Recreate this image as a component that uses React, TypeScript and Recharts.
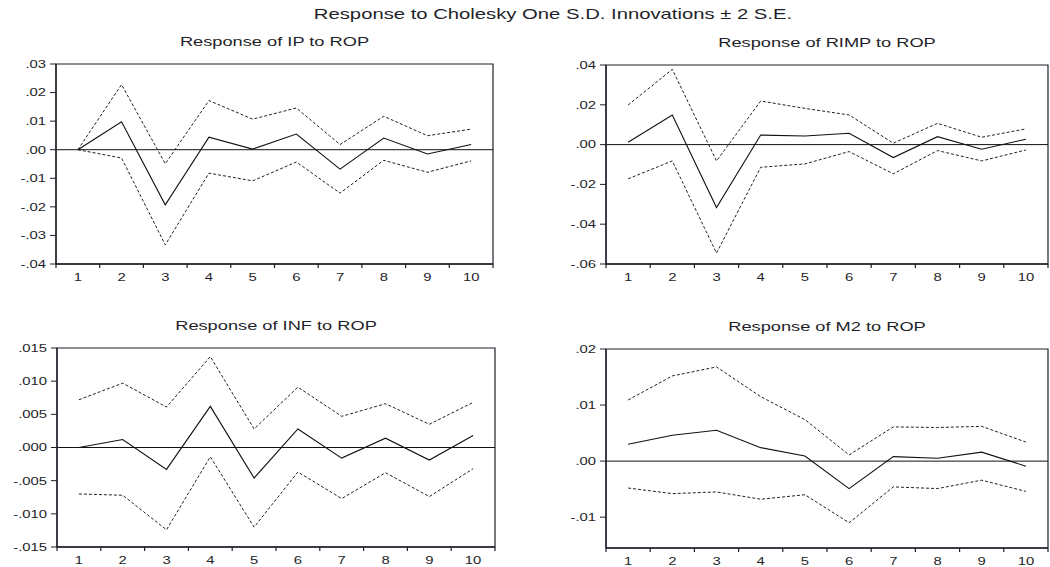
import React from 'react';
import { LineChart, Line, XAxis, YAxis, ReferenceLine, ReferenceArea } from 'recharts';

const periods = [1, 2, 3, 4, 5, 6, 7, 8, 9, 10];

// IP
const ipResp = [0.0, 0.0098, -0.0193, 0.0044, 0.0002, 0.0055, -0.0068, 0.0041, -0.0015, 0.0018];
const ipUpper = [0.0, 0.0228, -0.0049, 0.0172, 0.0107, 0.0146, 0.0018, 0.0117, 0.0049, 0.0072];
const ipLower = [0.0, -0.0029, -0.0333, -0.0082, -0.0109, -0.0043, -0.0152, -0.0037, -0.0079, -0.0039];
const ipTicks = [-0.04, -0.03, -0.02, -0.01, 0, 0.01, 0.02, 0.03];

// RIMP
const rimpResp = [0.0012, 0.0149, -0.0316, 0.0048, 0.0043, 0.0057, -0.0065, 0.004, -0.0023, 0.0027];
const rimpUpper = [0.0199, 0.0378, -0.0082, 0.0219, 0.0182, 0.0149, 0.0007, 0.0107, 0.0037, 0.0079];
const rimpLower = [-0.0172, -0.0082, -0.0545, -0.0114, -0.0097, -0.0035, -0.0147, -0.003, -0.0082, -0.0027];
const rimpTicks = [-0.06, -0.04, -0.02, 0, 0.02, 0.04];

// INF
const infResp = [0.0, 0.0012, -0.0033, 0.0062, -0.0046, 0.0028, -0.0016, 0.0014, -0.0019, 0.0018];
const infUpper = [0.0072, 0.0097, 0.0061, 0.0137, 0.0028, 0.0091, 0.0047, 0.0066, 0.0035, 0.0068];
const infLower = [-0.007, -0.0072, -0.0124, -0.0014, -0.012, -0.0037, -0.0077, -0.0038, -0.0074, -0.0032];
const infTicks = [-0.015, -0.01, -0.005, 0, 0.005, 0.01, 0.015];

// M2
const m2Resp = [0.003, 0.0046, 0.0055, 0.0024, 0.0009, -0.0049, 0.0008, 0.0005, 0.0016, -0.0009];
const m2Upper = [0.0109, 0.0152, 0.0168, 0.0115, 0.0074, 0.0011, 0.0061, 0.006, 0.0062, 0.0034];
const m2Lower = [-0.0048, -0.0058, -0.0055, -0.0068, -0.006, -0.011, -0.0046, -0.0049, -0.0034, -0.0054];
const m2Ticks = [-0.01, 0, 0.01, 0.02];

const FONT = '"Liberation Sans", Arial, sans-serif';
const INK = '#1f1f2a';
const STRETCH = 1.35;

// tick marks sit between periods, labels on the periods
const xTicks = [periods[0] - 0.5, ...periods.flatMap((p) => [p, p + 0.5])];
const xDomain = [periods[0] - 0.5, periods[periods.length - 1] + 0.5];

const fmt = (v: number, d: number) => v.toFixed(d).replace(/^(-?)0\./, '$1.');

const XTick = (props: any) => {
  const { x, y, payload } = props;
  const v = payload.value;
  if (!Number.isInteger(v)) {
    return <line x1={x} x2={x} y1={y} y2={y + 4} stroke={INK} strokeWidth={1.2} />;
  }
  return (
    <g transform={`translate(${x},${y + 17})`}>
      <text transform={`scale(${STRETCH},1)`} textAnchor="middle" fontSize={11} fill={INK} fontFamily={FONT}>
        {v}
      </text>
    </g>
  );
};

const makeYTick = (decimals: number) => (props: any) => {
  const { x, y, payload } = props;
  return (
    <g transform={`translate(${x},${y})`}>
      <text transform={`scale(${STRETCH},1)`} textAnchor="end" dy="0.35em" fontSize={11} fill={INK} fontFamily={FONT}>
        {fmt(payload.value, decimals)}
      </text>
    </g>
  );
};

type PanelProps = {
  title: string;
  resp: number[];
  upper: number[];
  lower: number[];
  yTicks: number[];
  yDomain: [number, number];
  decimals: number;
  left: number;
  top: number;
  w: number;
  h: number;
};

const IrfPanel = ({ title, resp, upper, lower, yTicks, yDomain, decimals, left, top, w, h }: PanelProps) => {
  const ML = 60, MT = 10, MR = 10, MB = 30;
  const data = periods.map((p, i) => ({ period: p, resp: resp[i], upper: upper[i], lower: lower[i] }));
  return (
    <>
      <div
        style={{
          position: 'absolute', left, top: top - 31, width: w, textAlign: 'center',
          fontFamily: FONT, fontSize: 13.5, lineHeight: '18px', color: INK,
          transform: `scaleX(${STRETCH})`, whiteSpace: 'nowrap',
        }}
      >
        {title}
      </div>
      <div style={{ position: 'absolute', left: left - ML, top: top - MT }}>
        <LineChart width={w + ML + MR} height={h + MT + MB} data={data} margin={{ top: MT, right: MR, left: 0, bottom: 0 }}>
          <XAxis
            dataKey="period" type="number" domain={xDomain} ticks={xTicks} interval={0}
            height={MB} tickLine={false} tickSize={0} tickMargin={0} tick={XTick}
            axisLine={{ stroke: INK, strokeWidth: 1.3 }} allowDataOverflow
          />
          <YAxis
            type="number" domain={yDomain} ticks={yTicks} interval={0} width={ML}
            tickSize={6} tickMargin={4} tick={makeYTick(decimals)}
            tickLine={{ stroke: INK }} axisLine={{ stroke: INK, strokeWidth: 1.3 }} allowDataOverflow
          />
          <ReferenceArea
            x1={xDomain[0]} x2={xDomain[1]} y1={yDomain[0]} y2={yDomain[1]}
            fill="none" stroke={INK} strokeWidth={1.2} ifOverflow="visible"
          />
          <ReferenceLine y={0} stroke="#111" strokeWidth={1} />
          <Line dataKey="upper" stroke="#222" strokeWidth={1} strokeDasharray="3 2" dot={false} isAnimationActive={false} />
          <Line dataKey="lower" stroke="#222" strokeWidth={1} strokeDasharray="3 2" dot={false} isAnimationActive={false} />
          <Line dataKey="resp" stroke="#111" strokeWidth={1.1} dot={false} isAnimationActive={false} />
        </LineChart>
      </div>
    </>
  );
};

export default function App() {
  return (
    <div style={{ position: 'absolute', left: 0, top: 0, width: 1050, height: 567, background: '#fff', overflow: 'hidden' }}>
      <div
        style={{
          position: 'absolute', left: 253, top: 5, width: 600, textAlign: 'center',
          fontFamily: FONT, fontSize: 15, lineHeight: '18px', color: INK,
          transform: `scaleX(${STRETCH})`, whiteSpace: 'nowrap',
        }}
      >
        Response to Cholesky One S.D. Innovations ± 2 S.E.
      </div>
      <IrfPanel title="Response of IP to ROP" resp={ipResp} upper={ipUpper} lower={ipLower}
        yTicks={ipTicks} yDomain={[-0.04, 0.03]} decimals={2} left={56} top={64} w={437} h={200} />
      <IrfPanel title="Response of RIMP to ROP" resp={rimpResp} upper={rimpUpper} lower={rimpLower}
        yTicks={rimpTicks} yDomain={[-0.06, 0.04]} decimals={2} left={606} top={65} w={442} h={199} />
      <IrfPanel title="Response of INF to ROP" resp={infResp} upper={infUpper} lower={infLower}
        yTicks={infTicks} yDomain={[-0.015, 0.015]} decimals={3} left={57} top={348} w={438} h={199} />
      <IrfPanel title="Response of M2 to ROP" resp={m2Resp} upper={m2Upper} lower={m2Lower}
        yTicks={m2Ticks} yDomain={[-0.0155, 0.02]} decimals={2} left={606} top={349} w={442} h={199} />
    </div>
  );
}
